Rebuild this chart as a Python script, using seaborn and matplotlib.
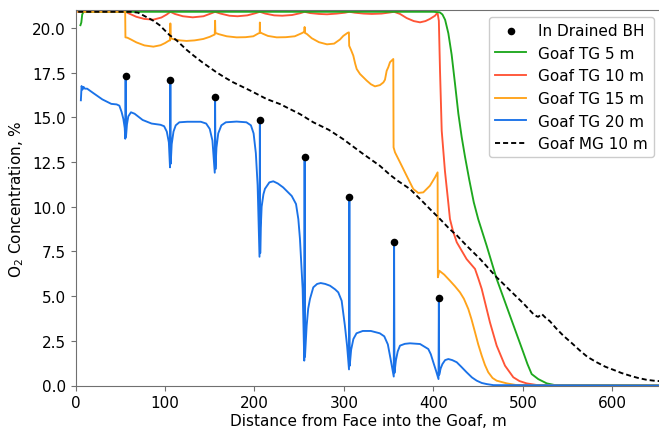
import numpy as np
import pandas as pd
import matplotlib
matplotlib.use("Agg")
import matplotlib.pyplot as plt
import seaborn as sns

# Drained borehole positions and their O2 readings
bh_x = [56, 106, 156, 206, 256, 306, 356, 406]
bh_y = [17.3, 17.1, 16.15, 14.87, 12.77, 10.55, 8.0, 4.88]

# Goaf TG 5 m
tg5_x = [5.5, 6.5, 7.5, 9, 60, 150, 250, 350, 400, 407, 410, 413, 416.6, 420.3, 424, 427.8,
         431.5, 435.2, 440, 445, 450, 459.4, 470.6, 485.5, 500.3, 505, 509.7, 517, 526.5,
         535, 654]
tg5_y = [20.15, 20.3, 20.75, 20.9, 20.9, 20.9, 20.9, 20.9, 20.9, 20.87, 20.75, 20.45, 19.7,
         18.5, 16.9, 15.2, 13.9, 12.8, 11.5, 10.25, 9.3, 7.82, 5.96, 3.9, 1.86, 1.2, 0.64,
         0.36, 0.12, 0.03, 0.0]

# Goaf TG 10 m
tg10_x = [3, 56, 60, 68, 77, 87, 96, 102, 106, 111, 120, 131, 143, 151, 156, 162, 172, 181,
          192, 201, 206, 212, 222, 231, 242, 251, 256, 262, 272, 281, 292, 301, 306, 312,
          322, 331, 342, 351, 356, 362.6, 370, 378, 385, 391, 396, 401.7, 404.5, 406,
          407.3, 409.2, 412.8, 416.6, 418.4, 422, 426, 437, 446.4, 450, 453.9, 463.1, 470.6,
          479.9, 489.2, 496, 504, 515, 654]
tg10_y = [20.9, 20.9, 20.8, 20.62, 20.5, 20.46, 20.58, 20.75, 20.9, 20.78, 20.65, 20.59,
          20.65, 20.8, 20.9, 20.8, 20.68, 20.65, 20.7, 20.82, 20.9, 20.8, 20.7, 20.68, 20.72,
          20.82, 20.9, 20.83, 20.78, 20.76, 20.8, 20.85, 20.9, 20.85, 20.8, 20.78, 20.8,
          20.86, 20.9, 20.78, 20.55, 20.38, 20.31, 20.38, 20.5, 20.68, 20.85, 20.4, 17.6,
          14.25, 12.0, 10.2, 9.31, 8.6, 8.01, 7.07, 6.52, 6.0, 5.4, 3.53, 2.23, 1.11, 0.46,
          0.25, 0.12, 0.03, 0.0]

# Goaf TG 15 m
tg15_x = [3, 55.5, 55.8, 58, 62, 68, 77, 87, 95, 100, 104.5, 105.7, 106, 106.3, 110, 117,
          124, 133, 142.8, 150, 155.6, 156, 156.3, 160, 169, 180, 190, 198.7, 204, 205.8,
          206, 206.3, 209, 215, 224.8, 235, 245, 252.7, 255.7, 256, 256.3, 258.5, 264, 272,
          281, 289, 295.5, 299.2, 304, 305.5, 305.8, 308, 310.4, 312.5, 314.2, 317.9, 325.4,
          330, 334.6, 340.2, 344, 345.8, 347.7, 349.5, 351.4, 355.1, 355.4, 357, 362.6, 370,
          377.4, 383, 388.6, 396, 401.7, 404.6, 404.9, 406.5, 412, 418.4, 424, 429.6, 434,
          438.9, 442.5, 446.4, 450, 453.9, 457.5, 461.2, 466, 470.6, 481.8, 492, 654]
tg15_y = [20.9, 20.9, 19.47, 19.45, 19.35, 19.19, 19.02, 18.95, 19.03, 19.15, 19.29, 19.3,
          20.25, 19.42, 19.36, 19.3, 19.27, 19.3, 19.38, 19.5, 19.63, 20.4, 19.72, 19.65,
          19.53, 19.47, 19.48, 19.53, 19.68, 19.72, 20.3, 19.75, 19.68, 19.55, 19.47, 19.48,
          19.53, 19.7, 19.78, 20.05, 19.72, 19.66, 19.42, 19.2, 19.08, 19.12, 19.35, 19.55,
          19.72, 19.75, 19.0, 18.75, 18.45, 18.0, 17.7, 17.42, 17.05, 16.85, 16.73, 16.8,
          16.95, 17.1, 17.6, 17.8, 18.08, 18.26, 13.32, 13.04, 12.48, 11.73, 10.99, 10.77,
          10.8, 11.17, 11.64, 11.92, 6.05, 6.42, 6.2, 5.86, 5.55, 5.21, 4.85, 4.28, 3.7,
          2.98, 2.3, 1.67, 1.15, 0.74, 0.42, 0.27, 0.12, 0.03, 0.0]

# Goaf TG 20 m (the borehole readings are merged in below as spikes)
tg20_x = [6, 6.8, 7.8, 9, 10.5, 13, 20, 30, 40, 46, 49, 51.5, 53.5, 55, 55.6, 56.4, 57.5,
          59, 62, 66, 75, 85, 95, 99, 102, 104.3, 105.6, 106.4, 107.5, 109.5, 112, 116, 125,
          140, 146, 150, 153, 155.6, 156.4, 157.5, 159.5, 163, 168, 180, 191, 196, 199,
          201.5, 203.5, 205.6, 206.4, 207, 208, 210, 211.7, 216.6, 221, 226, 232, 241.6,
          246.4, 249, 250.8, 253.8, 255.6, 256.4, 258.3, 260, 262, 265.7, 270, 274, 279,
          284.4, 290, 293.6, 297.4, 301, 303.5, 305.6, 306.4, 308, 310.5, 314, 321, 330,
          340, 345, 349, 352, 355.6, 356.4, 358, 360, 362.6, 368, 373.7, 385, 394.2, 397,
          399.8, 403, 405.6, 406.4, 408, 410, 413, 416.6, 421, 426, 431, 437, 443, 448.3,
          454, 459.4, 467, 654]
tg20_y = [15.95, 16.75, 16.55, 16.7, 16.6, 16.6, 16.35, 16.0, 15.75, 15.72, 15.65, 15.3,
          14.9, 14.4, 13.8, 13.9, 14.6, 15.05, 15.28, 15.2, 14.85, 14.65, 14.58, 14.5, 14.2,
          13.6, 12.2, 12.4, 13.5, 14.2, 14.55, 14.72, 14.75, 14.75, 14.65, 14.35, 13.7,
          11.9, 12.1, 13.3, 14.1, 14.55, 14.72, 14.76, 14.72, 14.55, 14.1, 13.0, 11.2, 7.2,
          7.4, 8.8, 10.0, 10.7, 11.0, 11.36, 11.42, 11.3, 11.08, 10.6, 10.15, 9.3, 8.2, 5.4,
          1.39, 1.6, 3.35, 4.3, 4.84, 5.49, 5.68, 5.73, 5.68, 5.58, 5.38, 5.21, 4.74, 3.35,
          2.2, 0.9, 1.1, 2.0, 2.6, 2.92, 3.05, 3.05, 2.92, 2.75, 2.3, 1.5, 0.5, 0.7, 1.4,
          1.9, 2.23, 2.33, 2.36, 2.32, 2.04, 1.75, 1.3, 0.8, 0.36, 0.6, 0.95, 1.2, 1.42,
          1.48, 1.42, 1.3, 1.05, 0.74, 0.45, 0.27, 0.14, 0.08, 0.02, 0.0]

# Goaf MG 10 m
mg10_x = [3, 62, 70, 79.5, 87, 94, 105, 113, 124, 132, 141, 150, 158, 167, 176, 195, 213.6,
          228.5, 250.8, 265.7, 283, 299, 320, 340, 351, 360, 373.7, 388.6, 396, 407.3, 418,
          426, 437, 452, 470.6, 490, 500.3, 511.5, 515.3, 517, 521, 525, 530, 537, 545,
          555, 563.7, 572, 582.3, 592, 600.9, 610, 619.5, 628, 638, 646, 654]
mg10_y = [20.9, 20.9, 20.85, 20.6, 20.4, 20.15, 19.6, 19.3, 18.78, 18.45, 18.1, 17.78, 17.5,
          17.22, 16.96, 16.5, 16.02, 15.74, 15.18, 14.72, 14.3, 13.78, 13.0, 12.29, 11.8,
          11.45, 10.99, 10.25, 9.87, 9.31, 8.75, 8.4, 7.82, 7.08, 6.05, 5.1, 4.6, 4.0, 3.87,
          3.84, 4.0, 3.8, 3.6, 3.2, 2.79, 2.35, 1.95, 1.6, 1.3, 1.05, 0.88, 0.7, 0.55, 0.43,
          0.32, 0.27, 0.24]

labels = ["In Drained BH", "Goaf TG 5 m", "Goaf TG 10 m", "Goaf TG 15 m",
          "Goaf TG 20 m", "Goaf MG 10 m"]

C_GREEN = "#1ea81e"
C_RED = "#ff5436"
C_ORANGE = "#ffa31a"
C_BLUE = "#1a72e8"
C_AXIS = "#707070"

# TG 20 m profile with a vertical spike up to each borehole reading
tg20 = pd.DataFrame({"x": tg20_x + bh_x, "y": tg20_y + bh_y}).sort_values("x")

fig = plt.figure(figsize=(6.59, 4.31), dpi=100)
ax = fig.add_axes([75.5 / 659, 44.5 / 431, 585.3 / 659, 375.5 / 431])

lw = 1.35
common = dict(estimator=None, sort=False, ax=ax, linewidth=lw)
sns.lineplot(x=tg10_x, y=tg10_y, color=C_RED, label=labels[2], **common)
sns.lineplot(x=tg5_x, y=tg5_y, color=C_GREEN, label=labels[1], **common)
sns.lineplot(x=tg15_x, y=tg15_y, color=C_ORANGE, label=labels[3], **common)
sns.lineplot(x=tg20["x"], y=tg20["y"], color=C_BLUE, label=labels[4], **common)
sns.lineplot(x=mg10_x, y=mg10_y, color="black", label=labels[5],
             linestyle=(0, (2.7, 1.6)), **common)
sns.scatterplot(x=bh_x, y=bh_y, color="black", s=30, linewidth=0, zorder=5,
                label=labels[0], ax=ax)

ax.set_xlim(0, 654)
ax.set_ylim(0, 21.0)
ax.set_xticks([0, 100, 200, 300, 400, 500, 600])
ax.set_yticks(np.arange(0, 20.01, 2.5))
ax.tick_params(labelsize=11, color=C_AXIS)
for side in ("left", "bottom", "top"):
    ax.spines[side].set_color(C_AXIS)
ax.spines["right"].set_visible(False)
ax.set_xlabel("Distance from Face into the Goaf, m", fontsize=11, labelpad=2)
ax.set_ylabel(r"O$_2$ Concentration, %", fontsize=11)

handles, labs = ax.get_legend_handles_labels()
lookup = dict(zip(labs, handles))
ax.legend([lookup[l] for l in labels], labels, loc="upper right", fontsize=11,
          borderaxespad=0.45, framealpha=1.0)

fig.savefig("out.png", dpi=100)
